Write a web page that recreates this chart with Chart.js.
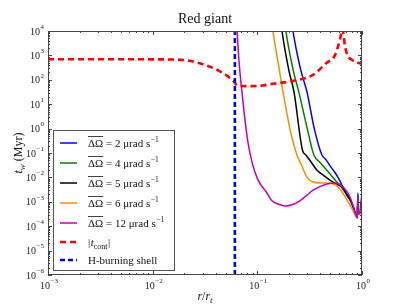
<!DOCTYPE html>
<html>
<head>
<meta charset="utf-8">
<script src="https://cdn.jsdelivr.net/npm/chart.js@4.4.1/dist/chart.umd.min.js"></script>
<style>
  html, body { margin: 0; padding: 0; background: #fff; }
  #wrap { width: 403px; height: 306px; }
</style>
</head>
<body>
<div id="wrap"><canvas id="c" width="403" height="306"></canvas></div>
<script>
// ---- data ----
const xTickValues = [1e-3, 1e-2, 1e-1, 1];
const xTickExps = ['-3', '-2', '-1', '0'];
const yTickValues = [1e-6, 1e-5, 1e-4, 1e-3, 1e-2, 1e-1, 1, 1e1, 1e2, 1e3, 1e4];
const yTickExps = ['-6', '-5', '-4', '-3', '-2', '-1', '0', '1', '2', '3', '4'];

const seriesLabels = ['2', '4', '5', '6', '12'];

const x2 = [0.205, 0.219, 0.26, 0.298, 0.35, 0.414, 0.45, 0.49, 0.54, 0.59, 0.658, 0.72, 0.766, 0.82, 0.875, 0.9, 0.914, 0.93, 0.97, 0.995, 1.0];
const y2 = [1e5, 1e4, 2.5e2, 3.2e1, 1.0e0, 8.3e-2, 5.5e-2, 3.2e-2, 1.8e-2, 1.0e-2, 4.0e-3, 1.8e-3, 1.25e-3, 6.5e-4, 2.8e-4, 2.2e-4, 2.3e-3, 3.2e-4, 4.0e-4, 2.0e-3, 1.6e-4];

const x4 = [0.176, 0.1875, 0.22, 0.249, 0.3, 0.347, 0.4, 0.44, 0.5, 0.55, 0.62, 0.69, 0.766, 0.82, 0.875, 0.9, 0.914, 0.93, 0.97, 0.995, 1.0];
const y4 = [1e5, 1e4, 2.5e2, 3.2e1, 1.0e0, 8.3e-2, 4.0e-2, 2.5e-2, 1.3e-2, 8.0e-3, 4.5e-3, 2.4e-3, 1.25e-3, 6.5e-4, 2.8e-4, 2.2e-4, 1.6e-3, 3.2e-4, 4.0e-4, 1.4e-3, 1.2e-4];

const x5 = [0.162, 0.172, 0.2, 0.224, 0.27, 0.291, 0.33, 0.37, 0.43, 0.49, 0.59, 0.658, 0.72, 0.766, 0.82, 0.875, 0.9, 0.914, 0.93, 0.97, 0.995, 1.0];
const y5 = [1e5, 1e4, 2.5e2, 3.2e1, 1.3e-1, 8.3e-2, 4.0e-2, 2.0e-2, 1.2e-2, 7.9e-3, 5.0e-3, 3.8e-3, 1.9e-3, 1.25e-3, 6.5e-4, 2.8e-4, 2.2e-4, 1.2e-3, 3.0e-4, 3.6e-4, 1.0e-3, 1.0e-4];

const x6 = [0.133, 0.141, 0.157, 0.176, 0.21, 0.239, 0.27, 0.297, 0.34, 0.42, 0.53, 0.59, 0.65, 0.72, 0.79, 0.86, 0.9, 0.914, 0.93, 0.97, 0.995, 1.0];
const y6 = [1e5, 1e4, 6.0e2, 3.2e1, 6.0e-1, 8.3e-2, 2.6e-2, 1.05e-2, 6.5e-3, 5.9e-3, 5.4e-3, 4.1e-3, 2.4e-3, 1.17e-3, 6.0e-4, 2.9e-4, 2.2e-4, 1.2e-3, 3.0e-4, 3.4e-4, 8.0e-4, 1.0e-4];

const x12 = [0.061, 0.0638, 0.067, 0.0713, 0.076, 0.0813, 0.09, 0.1014, 0.1236, 0.138, 0.16, 0.184, 0.215, 0.255, 0.3, 0.34, 0.4, 0.462, 0.551, 0.658, 0.766, 0.82, 0.875, 0.9, 0.914, 0.93, 0.97, 0.995, 1.0];
const y12 = [1e5, 1.2e4, 5.0e2, 3.2e1, 2.5e0, 2.8e-1, 3.5e-2, 7.9e-3, 2.3e-3, 1.1e-3, 7.9e-4, 6.8e-4, 7.6e-4, 1.1e-3, 1.9e-3, 3.0e-3, 4.3e-3, 5.4e-3, 5.9e-3, 4.1e-3, 1.6e-3, 7.1e-4, 2.8e-4, 2.2e-4, 1.6e-3, 3.2e-4, 4.0e-4, 3.0e-4, 1e-6];

const xCont = [0.001, 0.002, 0.005, 0.01, 0.015, 0.02, 0.032, 0.047, 0.059, 0.065, 0.08, 0.1, 0.147, 0.22, 0.34, 0.46, 0.55, 0.62, 0.65, 0.69, 0.73, 0.81, 1.0];
const yCont = [700, 700, 700, 690, 680, 650, 400, 190, 90, 56, 55, 56, 70, 90, 160, 500, 1000, 5000, 12000, 2200, 1000, 630, 450];

const xShell = [0.061, 0.061];
const yShell = [1e-6, 1e4];

// ---- build chart ----
function pts(xs, ys) { return xs.map((x, i) => ({ x: x, y: ys[i] })); }

const solidColors = ['#0000ff', '#008000', '#000000', '#ff8c00', '#bf00bf'];
const solidData = [[x2, y2], [x4, y4], [x5, y5], [x6, y6], [x12, y12]];

const datasets = [];
solidData.forEach((d, i) => {
  datasets.push({
    label: seriesLabels[i],
    data: pts(d[0], d[1]),
    borderColor: solidColors[i],
    borderWidth: 1.5,
    showLine: true,
    pointRadius: 0,
    cubicInterpolationMode: 'monotone',
    order: 10 - i
  });
});
datasets.push({
  label: 'tcont',
  data: pts(xCont, yCont),
  borderColor: '#ff0000',
  borderWidth: 2.6,
  borderDash: [6, 4],
  showLine: true,
  pointRadius: 0,
  cubicInterpolationMode: 'monotone',
  order: 4
});
datasets.push({
  label: 'shell',
  data: pts(xShell, yShell),
  borderColor: '#0000ff',
  borderWidth: 2.6,
  borderDash: [5, 3],
  showLine: true,
  pointRadius: 0,
  order: 3
});

const SERIF = '"Liberation Serif", "DejaVu Serif", serif';
const FRAME = '#444444';

function drawPow(ctx, base, exp, x, y, align) {
  // y = vertical center of base
  ctx.save();
  ctx.fillStyle = '#222';
  ctx.textBaseline = 'middle';
  ctx.font = '10px ' + SERIF;
  const bw = ctx.measureText(base).width;
  ctx.font = '7px ' + SERIF;
  const expTxt = exp.replace('-', '\u2212');
  const ew = ctx.measureText(expTxt).width;
  const total = bw + ew + 0.5;
  let left = x;
  if (align === 'right') left = x - total;
  else if (align === 'center') left = x - total / 2;
  ctx.textAlign = 'left';
  ctx.font = '10px ' + SERIF;
  ctx.fillText(base, left, y);
  ctx.font = '7px ' + SERIF;
  ctx.fillText(expTxt, left + bw + 0.5, y - 5);
  ctx.restore();
}

const decor = {
  id: 'decor',
  afterDraw(chart) {
    const ctx = chart.ctx;
    const a = chart.chartArea;
    const xs = chart.scales.x, ys = chart.scales.y;
    ctx.save();
    // frame
    ctx.strokeStyle = FRAME;
    ctx.lineWidth = 1;
    ctx.strokeRect(Math.round(a.left) + 0.5, Math.round(a.top) + 0.5, Math.round(a.right - a.left) - 1, Math.round(a.bottom - a.top) - 1);
    // ticks
    ctx.beginPath();
    for (let e = -3; e <= 0; e++) {
      for (let m = 1; m <= 9; m++) {
        const v = m * Math.pow(10, e);
        if (v > 1.0000001) continue;
        const px = Math.round(xs.getPixelForValue(v)) + 0.5;
        const len = m === 1 ? 4 : 2;
        ctx.moveTo(px, a.bottom); ctx.lineTo(px, a.bottom - len);
        ctx.moveTo(px, a.top); ctx.lineTo(px, a.top + len);
      }
    }
    for (let e = -6; e <= 4; e++) {
      for (let m = 1; m <= 9; m++) {
        const v = m * Math.pow(10, e);
        if (v > 1.0000001e4) continue;
        const py = Math.round(ys.getPixelForValue(v)) + 0.5;
        const len = m === 1 ? 4 : 2;
        ctx.moveTo(a.left, py); ctx.lineTo(a.left + len, py);
        ctx.moveTo(a.right, py); ctx.lineTo(a.right - len, py);
      }
    }
    ctx.stroke();
    // tick labels
    xTickValues.forEach((v, i) => {
      drawPow(ctx, '10', xTickExps[i], xs.getPixelForValue(v) + 1, a.bottom + 11, 'center');
    });
    yTickValues.forEach((v, i) => {
      drawPow(ctx, '10', yTickExps[i], a.left - 4, ys.getPixelForValue(v) + 1, 'right');
    });
    // title
    ctx.fillStyle = '#111';
    ctx.font = '14px ' + SERIF;
    ctx.textAlign = 'center';
    ctx.textBaseline = 'alphabetic';
    ctx.fillText('Red giant', (a.left + a.right) / 2, 23);
    // x axis title r/r_t
    {
      const cx = (a.left + a.right) / 2, by = 300;
      ctx.textAlign = 'left';
      ctx.font = 'italic 12px ' + SERIF;
      const w1 = ctx.measureText('r').width;
      ctx.font = '12px ' + SERIF;
      const w2 = ctx.measureText('/').width;
      ctx.font = 'italic 12px ' + SERIF;
      const w3 = ctx.measureText('r').width;
      ctx.font = 'italic 9px ' + SERIF;
      const w4 = ctx.measureText('t').width;
      let x = cx - (w1 + w2 + w3 + w4) / 2;
      ctx.font = 'italic 12px ' + SERIF; ctx.fillText('r', x, by); x += w1;
      ctx.font = '12px ' + SERIF; ctx.fillText('/', x, by); x += w2;
      ctx.font = 'italic 12px ' + SERIF; ctx.fillText('r', x, by); x += w3;
      ctx.font = 'italic 9px ' + SERIF; ctx.fillText('t', x, by + 3);
    }
    // y axis title t_w (Myr)
    {
      ctx.save();
      ctx.translate(22, (a.top + a.bottom) / 2);
      ctx.rotate(-Math.PI / 2);
      ctx.textAlign = 'left';
      ctx.textBaseline = 'alphabetic';
      ctx.font = 'italic 12px ' + SERIF;
      const w1 = ctx.measureText('t').width;
      ctx.font = 'italic 9px ' + SERIF;
      const w2 = ctx.measureText('w').width;
      ctx.font = '12px ' + SERIF;
      const w3 = ctx.measureText(' (Myr)').width;
      let x = -(w1 + w2 + w3) / 2;
      ctx.font = 'italic 12px ' + SERIF; ctx.fillText('t', x, 0); x += w1;
      ctx.font = 'italic 9px ' + SERIF; ctx.fillText('w', x, 3); x += w2;
      ctx.font = '12px ' + SERIF; ctx.fillText(' (Myr)', x, 0);
      ctx.restore();
    }
    // legend
    {
      const L = 53.5, T = 130.5, W = 121, H = 140;
      ctx.fillStyle = '#ffffff';
      ctx.fillRect(L, T, W, H);
      ctx.strokeStyle = '#555555';
      ctx.lineWidth = 1;
      ctx.strokeRect(L, T, W, H);
      const rows = [143, 163, 183, 203, 223, 242, 260];
      const tx = 88;
      for (let i = 0; i < 5; i++) {
        const y = rows[i];
        ctx.setLineDash([]);
        ctx.strokeStyle = solidColors[i];
        ctx.lineWidth = 1.5;
        ctx.beginPath(); ctx.moveTo(60, y); ctx.lineTo(77, y); ctx.stroke();
        const by = y + 4;
        ctx.fillStyle = '#111';
        ctx.textAlign = 'left';
        ctx.textBaseline = 'alphabetic';
        ctx.font = '11px ' + SERIF;
        const g = '\u0394\u03A9';
        const gw = ctx.measureText(g).width;
        ctx.fillText(g, tx, by);
        ctx.strokeStyle = '#111';
        ctx.lineWidth = 0.8;
        ctx.beginPath(); ctx.moveTo(tx, by - 10.5); ctx.lineTo(tx + gw, by - 10.5); ctx.stroke();
        let x = tx + gw;
        const mid = ' = ' + seriesLabels[i] + ' \u03BCrad s';
        ctx.fillText(mid, x, by);
        x += ctx.measureText(mid).width;
        ctx.font = '7.5px ' + SERIF;
        ctx.fillText('\u22121', x + 0.5, by - 5);
      }
      // t_cont
      {
        const y = rows[5];
        ctx.strokeStyle = '#ff0000';
        ctx.lineWidth = 2.6;
        ctx.setLineDash([6, 4]);
        ctx.beginPath(); ctx.moveTo(60, y); ctx.lineTo(77, y); ctx.stroke();
        ctx.setLineDash([]);
        const by = y + 4;
        ctx.fillStyle = '#111';
        ctx.font = '11px ' + SERIF;
        let x = tx;
        ctx.fillText('|', x, by); x += ctx.measureText('|').width + 0.5;
        ctx.font = 'italic 11px ' + SERIF;
        ctx.fillText('t', x, by); x += ctx.measureText('t').width;
        ctx.font = '8px ' + SERIF;
        ctx.fillText('cont', x, by + 2.5); x += ctx.measureText('cont').width + 0.5;
        ctx.font = '11px ' + SERIF;
        ctx.fillText('|', x, by);
      }
      // shell
      {
        const y = rows[6];
        ctx.strokeStyle = '#0000ff';
        ctx.lineWidth = 2.6;
        ctx.setLineDash([5, 3]);
        ctx.beginPath(); ctx.moveTo(60, y); ctx.lineTo(77, y); ctx.stroke();
        ctx.setLineDash([]);
        ctx.fillStyle = '#111';
        ctx.font = '11px ' + SERIF;
        ctx.fillText('H-burning shell', tx, y + 4);
      }
    }
    ctx.restore();
  }
};

new Chart(document.getElementById('c'), {
  type: 'scatter',
  data: { datasets: datasets },
  options: {
    responsive: false,
    animation: false,
    devicePixelRatio: 1,
    layout: { padding: { left: 48, right: 41, top: 31, bottom: 31 } },
    plugins: { legend: { display: false }, tooltip: { enabled: false }, title: { display: false } },
    scales: {
      x: { type: 'logarithmic', min: 1e-3, max: 1, display: false },
      y: { type: 'logarithmic', min: 1e-6, max: 1e4, display: false }
    }
  },
  plugins: [decor]
});
</script>
</body>
</html>
